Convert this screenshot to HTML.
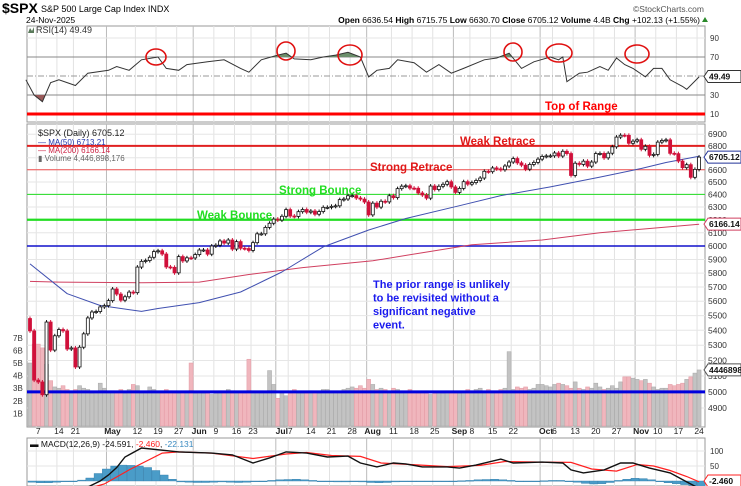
<!DOCTYPE html>
<html><head><meta charset="utf-8"><style>
html,body{margin:0;padding:0;background:#fff;}
svg{display:block;font-family:"Liberation Sans",sans-serif;}
</style></head><body>
<svg id="c" width="741" height="486" viewBox="0 0 741 486" xmlns="http://www.w3.org/2000/svg">
<g id="hdr">
<text x="2" y="13" font-size="14" font-weight="bold">$SPX</text>
<text x="41" y="12" font-size="9">S&amp;P 500 Large Cap Index  INDX</text>
<text x="26" y="23" font-size="8.5">24-Nov-2025</text>
<text x="704" y="12" font-size="8.5" fill="#555" text-anchor="end">©StockCharts.com</text>
<text x="700" y="23" font-size="8.5" text-anchor="end"><tspan font-weight="bold">Open</tspan> 6636.54 <tspan font-weight="bold">High</tspan> 6715.75 <tspan font-weight="bold">Low</tspan> 6630.70 <tspan font-weight="bold">Close</tspan> 6705.12 <tspan font-weight="bold">Volume</tspan> 4.4B <tspan font-weight="bold">Chg</tspan> +102.13 (+1.55%)</text>
<polygon points="702,22 708,22 705,17" fill="#2a8a2a"/>
</g>
</svg>
<script>
const closes=[5396,5074,5062,4982,5456,5268,5363,5405,5396,5275,5282,5158,5287,5376,5484,5525,5528,5560,5569,
5604,5686,5650,5607,5631,5664,5660,5844,5886,5892,5916,5958,5964,5940,5845,5842,5802,5921,5889,5912,5911,
5936,5970,5970,5939,6000,6006,6038,6022,6045,5977,6033,5983,5981,5967,6025,6092,6092,6141,6173,6205,
6198,6227,6279,6229,6226,6263,6280,6259,6268,6243,6264,6297,6297,6305,6309,6358,6363,6389,6390,6371,6362,6339,
6238,6330,6299,6345,6340,6389,6374,6446,6466,6469,6450,6449,6411,6395,6370,6467,6439,6465,6481,6502,6460,
6416,6448,6502,6482,6495,6512,6532,6587,6584,6615,6607,6600,6631,6664,6693,6657,6638,6605,6644,6661,6688,
6711,6715,6716,6740,6714,6754,6735,6553,6654,6644,6671,6630,6664,6735,6736,6699,6738,6792,6875,6891,6890,6822,6840,
6852,6771,6796,6720,6728,6832,6846,6851,6737,6734,6672,6617,6642,6538,6603,6705];
const volumes=[5.0,6.5,6.5,6.2,4.9,3.6,3.1,3.0,3.2,2.9,2.8,2.9,3.2,3.0,2.9,2.6,2.7,3.4,3.0,
2.8,2.8,2.7,2.9,2.6,2.9,3.3,3.2,2.7,2.8,3.1,2.9,2.8,2.6,2.9,2.8,2.6,2.6,2.7,2.8,5.0,
2.6,2.7,2.6,2.7,2.5,2.7,2.8,2.7,2.9,2.6,2.7,2.7,2.6,5.3,2.8,2.8,2.8,2.7,4.4,3.3,
2.2,2.7,2.4,2.6,2.9,2.6,2.6,2.6,2.8,2.7,2.6,2.9,2.9,2.8,2.8,2.8,2.9,3.0,3.1,3.0,3.2,3.0,
3.7,3.3,2.9,3.0,2.9,2.7,3.0,2.9,2.7,2.7,2.9,2.7,2.6,2.7,2.8,2.5,2.6,2.7,2.6,2.8,2.7,
2.6,2.6,2.7,2.9,2.8,2.9,3.0,2.8,2.9,2.8,2.8,2.9,3.0,5.9,2.9,3.1,3.0,3.1,2.9,3.0,3.3,
3.3,3.2,3.1,3.3,3.4,3.3,3.2,3.0,3.5,3.0,2.9,3.1,3.0,3.4,3.1,2.9,3.0,3.2,3.0,3.5,3.9,3.9,3.8,
3.7,3.6,3.7,3.4,3.1,2.9,3.0,3.0,3.3,3.2,3.3,3.4,3.7,3.9,4.2,4.45];
const ma50Days=[0,9,17,27,31,41,51,57,61,71,82,91,104,114,126,138,148,154,162];
const ma50Vals=[5867,5653,5570,5529,5549,5590,5665,5750,5808,5993,6121,6210,6310,6390,6460,6540,6610,6660,6713];
const ma200Days=[0,7,27,41,53,66,83,95,107,124,138,162];
const ma200Vals=[5740,5735,5730,5735,5790,5840,5890,5950,6010,6045,6100,6166];
const rsiDays=[-1,1,3,5,7,11,14,19,21,24,27,31,33,36,38,43,47,51,53,56,60,62,64,68,71,74,77,80,82,84,87,89,93,96,99,102,105,110,113,116,119,122,126,128,129,130,133,135,138,140,142,144,146,149,151,153,155,158,159,162];
const rsiVals=[46,30,23,43,46,40,53,56,60,56,67,70,58,56,62,65,67,58,54,67,72,74,68,67,70,72,75,70,49,56,58,67,64,54,62,53,58,67,69,74,58,65,70,67,70,44,53,54,60,56,69,62,58,49,58,58,46,39,36,49];
const macdDays=[0,8,14,17,19,21,23,27,36,44,49,54,58,62,67,72,77,80,84,88,91,95,101,104,108,114,117,124,129,131,134,139,143,146,150,155,159,162];
const macdVals=[-60,-45,-20,0,20,45,80,110,97,93,87,60,77,97,93,80,83,60,47,60,57,47,47,43,53,73,60,63,60,37,27,37,60,60,43,27,-3,-24.6];
const sigDays=[0,10,18,24,32,36,44,54,62,67,73,80,85,92,101,109,115,124,131,136,142,147,151,155,159,162];
const sigVals=[-50,-40,-10,37,93,97,93,75,90,95,85,82,60,55,48,52,65,63,62,40,33,55,50,35,15,-2.5];
const histVals=[-4,-6,-6,-4,-2,0,3,10,25,40,50,53,52,50,45,35,20,6,-3,-4,-5,-5,-4,-3,-4,-5,-4,-2,0,2,4,5,6,4,2,0,-2,-3,-3,-2,-3,-5,-6,-5,-3,-2,-1,0,-1,-2,-1,0,1,2,4,5,6,4,2,0,-1,0,1,2,2,0,-4,-8,-10,-9,-5,2,6,9,8,4,-2,-6,-9,-12,-15,-20];
const priceTicks=[6900,6800,6700,6600,6500,6400,6300,6200,6100,6000,5900,5800,5700,5600,5500,5400,5300,5200,5100,5000,4900];
const volTicks=[1,2,3,4,5,6,7];
const rsiTicks=[90,70,30,10];
const macdTicks=[100,50];
const dateIdx=[2,7,11,19,26,31,36,40,45,50,54,60,63,68,73,78,82,88,93,98,103,107,112,117,124,127,132,137,142,147,152,157,162];
const dateLbl=["7","14","21","May","12","19","27","Jun","9","16","23","Jul","7","14","21","28","Aug","11","18","25","Sep","8","15","22","Oct","6","13","20","27","Nov","10","17","24"];
const monthIdx=[19,40,60,82,103,124,147];

const NS="http://www.w3.org/2000/svg";
const svg=document.getElementById('c');
const L=27,R=705;
const xS=i=>30+i*4.13;
const yP=p=>246-800*Math.log(p/6000);
const yR=v=>38+(90-v)*0.95;
const yV=b=>426-b*12.6;
const yM=v=>481-v*0.3;
function el(t,a,p){const e=document.createElementNS(NS,t);for(const k in a)e.setAttribute(k,a[k]);(p||svg).appendChild(e);return e;}
function txt(x,y,s,a,p){const e=el('text',Object.assign({x:x,y:y},a),p);e.textContent=s;return e;}

const panels=[[26,122],[124,427],[438,486]];
panels.forEach((pp,k)=>{
 const r=el('rect',{x:L,y:pp[0],width:R-L,height:pp[1]-pp[0],fill:'#fff',stroke:'#999','stroke-width':1});
 
 
});
dateIdx.forEach(i=>{
 const m=monthIdx.includes(i);
 panels.forEach(pp=>{
  const g=el('line',{x1:xS(i)-2,x2:xS(i)-2,y1:pp[0],y2:pp[1],stroke:m?'#bbb':'#e2e2e2','stroke-width':1});
  
  
 });
});
priceTicks.forEach(p=>{
 const g=el('line',{x1:L,x2:R,y1:yP(p),y2:yP(p),stroke:'#e6e6e6'});
 
 
 const t=txt(708,yP(p)+3,String(p),{'font-size':8.5,fill:'#333'});
 
 
});
volTicks.forEach(v=>{
 const t=txt(13,yV(v)+3,v+'B',{'font-size':8,fill:'#333'});
 
 
});
rsiTicks.forEach(v=>{
 const g=el('line',{x1:L,x2:R,y1:yR(v),y2:yR(v),stroke:(v==70||v==30)?'#888':'#e6e6e6','stroke-width':1});
 
 
 const t=txt(710,yR(v)+3,String(v),{'font-size':8,fill:'#333'});
 
 
});
const mid=el('line',{x1:L,x2:R,y1:yR(50),y2:yR(50),stroke:'#999','stroke-dasharray':'6,2,1,2'});


macdTicks.forEach(v=>{
 const g=el('line',{x1:L,x2:R,y1:yM(v),y2:yM(v),stroke:'#e6e6e6'});
 
 
 const t=txt(710,yM(v)+3,String(v),{'font-size':8,fill:'#333'});
 
 
});
dateIdx.forEach((i,k)=>{
 const m=monthIdx.includes(i);
 const t=txt(xS(i)+(m?4:0),434,dateLbl[k],{'font-size':8.5,'text-anchor':'middle','font-weight':m?'bold':'normal',fill:'#222'});
 
 
});

closes.forEach((c,i)=>{
 const up=i==0||c>=closes[i-1];
 const b=el('rect',{x:xS(i)-2,y:yV(volumes[i]),width:4,height:426-yV(volumes[i]),fill:up?'#c3c3c3':'#f0b6bd',stroke:up?'#a8a8a8':'#e39aa4','stroke-width':0.5});
 
 
});

function poly(days,vals,xf,yf){return days.map((d,k)=>xf(d).toFixed(1)+','+yf(vals[k]).toFixed(1)).join(' ');}
const defs=el('defs',{});
const c1=el('clipPath',{id:'ob'},defs);el('rect',{x:L,y:26,width:R-L,height:yR(70)-26},c1);
const c2=el('clipPath',{id:'os'},defs);el('rect',{x:L,y:yR(30),width:R-L,height:122-yR(30)},c2);
const rpts=poly(rsiDays,rsiVals,xS,yR);
const f1=el('polygon',{points:xS(rsiDays[0])+','+yR(70)+' '+rpts+' '+xS(162)+','+yR(70),fill:'#6b8f6b','clip-path':'url(#ob)'});


const f2=el('polygon',{points:xS(rsiDays[0])+','+yR(30)+' '+rpts+' '+xS(162)+','+yR(30),fill:'#9a5a5a','clip-path':'url(#os)'});


const rl=el('polyline',{points:rpts,fill:'none',stroke:'#333','stroke-width':1});


[[156,57,10,8],[286,51,9,9],[350,55,12,10],[513,52,9,9],[559,53,13,9],[637,54,12,9]].forEach(c=>{
 const e=el('ellipse',{cx:c[0],cy:c[1],rx:c[2],ry:c[3],fill:'none',stroke:'#e01010','stroke-width':1.6});
 
 
});

[[114,'#ff0000',3,'top-of-range-line'],[yP(6800),'#e02020',2,'weak-retrace-line'],[yP(6600),'#f05050',1,'strong-retrace-line'],[yP(6400),'#22dd22',1,'strong-bounce-line'],[yP(6200),'#22dd22',2.2,'weak-bounce-line'],[yP(6000),'#1010cc',1.6,'prior-range-top-line'],[yP(5000),'#0000dd',3,'prior-range-bottom-line']].forEach(h=>{
 const e=el('line',{x1:L,x2:R,y1:h[0],y2:h[0],stroke:h[1],'stroke-width':h[2]});
 
 
});

const m2=el('polyline',{points:poly(ma200Days,ma200Vals,xS,yP),fill:'none',stroke:'#d04060','stroke-width':1});


const m5=el('polyline',{points:poly(ma50Days,ma50Vals,xS,yP),fill:'none',stroke:'#4050b0','stroke-width':1,'stroke-linejoin':'round'});



closes.forEach((c,i)=>{
 const o=i==0?5480:closes[i-1];
 const up=c>=o;
 const y1=yP(Math.max(o,c)),y2=yP(Math.min(o,c));
 const col=up?'#111':'#d0103a';
 const w=el('line',{x1:xS(i),x2:xS(i),y1:y1-2,y2:y2+2,stroke:col,'stroke-width':1});
 
 
 const b=el('rect',{x:xS(i)-1.5,y:y1,width:3,height:Math.max(1,y2-y1),fill:up?'#fff':col,stroke:col,'stroke-width':0.8});
 
 
});

histVals.forEach((h,k)=>{
 const i=k*2;const y=yM(Math.max(h,0)),y0=yM(Math.min(h,0));
 const b=el('rect',{x:xS(i)-2,y:y,width:8,height:Math.max(0.8,y0-y),fill:'#4a9cc8',stroke:'#2f7aa8','stroke-width':0.4});
 
 
});
const cm=el('clipPath',{id:'mc'},defs);el('rect',{x:L,y:438,width:R-L,height:48},cm);
const sl=el('polyline',{points:poly(sigDays,sigVals,xS,yM),fill:'none',stroke:'#ff2020','stroke-width':1.2,'clip-path':'url(#mc)'});


const ml=el('polyline',{points:poly(macdDays,macdVals,xS,yM),fill:'none',stroke:'#111','stroke-width':1.4,'clip-path':'url(#mc)'});



function tag(y,s,col,name){
 const p=el('polygon',{points:`704,${y} 708,${y-6} 741,${y-6} 741,${y+6} 708,${y+6}`,fill:'#fff',stroke:col,'stroke-width':1});
 
 
 const t=txt(709,y+3,s,{'font-size':8.5,'font-weight':'bold',fill:'#111'});
 
 
}
tag(yR(49.49),'49.49','#333','rsi-value-tag');
tag(yP(6705.12),'6705.12','#223399','price-value-tag');
tag(yP(6166.14),'6166.14','#d04060','ma200-value-tag');
tag(yV(4.45),'4446898','#555','volume-value-tag');
tag(481,'-2.460','#ff2020','macd-value-tag');

function leg(x,y,s,col,name,sz){const t=txt(x,y,s,{'font-size':sz||8,fill:col});return t;}
leg(36,33,'RSI(14) 49.49','#333','rsi-legend',9);
el('polygon',{points:'28,33 30,28 32,31 34,27 34,33',fill:'#5a7a5a'});
leg(38,136,'$SPX (Daily) 6705.12','#222','price-legend',9);
leg(38,145,'— MA(50) 6713.21','#2233aa','ma50-legend');
leg(38,153,'— MA(200) 6166.14','#cc2244','ma200-legend');
leg(38,161,'▮ Volume 4,446,898,176','#666','volume-legend');
const mt=txt(30,447,'',{'font-size':8.5});


mt.innerHTML='<tspan fill="#111">▬ MACD(12,26,9) -24.591, </tspan><tspan fill="#ff2020">-2.460</tspan><tspan fill="#111">, </tspan><tspan fill="#3a8ac0">-22.131</tspan>';

[[545,110,'Top of Range','#ff0000'],[460,145,'Weak Retrace','#e01818'],[370,171,'Strong Retrace','#e01818'],[279,194,'Strong Bounce','#22dd22'],[197,219,'Weak Bounce','#22dd22']].forEach(a=>{
 const t=txt(a[0],a[1],a[2],{'font-size':11.5,'font-weight':'bold',fill:a[3]});
 
 
});
['The prior range is unlikely','to be revisited without a','significant negative','event.'].forEach((s,k)=>{
 const t=txt(373,288+k*13.5,s,{'font-size':11,'font-weight':'bold',fill:'#1a1aee'});
 
 
});
svg.appendChild(document.getElementById('hdr'));
</script>
</body></html>
